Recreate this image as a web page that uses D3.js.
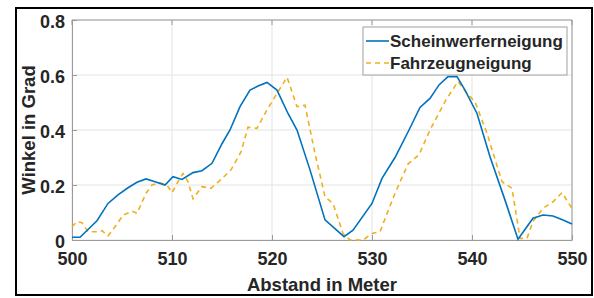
<!DOCTYPE html>
<html>
<head>
<meta charset="utf-8">
<title>Winkel</title>
<style>
  body { margin: 0; background: #fff; }
  text { font-family: "Liberation Sans", Arial, sans-serif; font-weight: bold; fill: #262626; }
  .grid line { stroke: #e3e3e3; stroke-width: 1; }
  .tick text { font-size: 18px; }
</style>
</head>
<body>
<svg width="594" height="298"></svg>
<script src="https://d3js.org/d3.v7.min.js"></script>
<script>
// Scheinwerferneigung (blue, solid)
var abstandSchein = [500, 500.8, 502.5, 503.6, 504.6, 505.6, 506.5, 507.4, 508.3, 509.3,
  510.1, 511.0, 512.1, 513, 514, 515, 515.8, 516.8, 517.8, 518.6, 519.5, 520.5, 521.6,
  522.5, 523.8, 525.3, 527.2, 528.1, 530, 531, 532.3, 533.7, 534.8, 535.8, 536.7, 537.6,
  538.5, 539.3, 540.5, 541.8, 543.3, 544.6, 546.1, 547.1, 548.1, 549.1, 550];
var winkelSchein = [0.01, 0.01, 0.07, 0.133, 0.164, 0.19, 0.21, 0.222, 0.212, 0.2,
  0.23, 0.22, 0.245, 0.252, 0.279, 0.35, 0.4, 0.485, 0.545, 0.56, 0.573, 0.545, 0.46,
  0.4, 0.255, 0.073, 0.012, 0.036, 0.133, 0.224, 0.30, 0.4, 0.482, 0.515, 0.564, 0.594,
  0.594, 0.545, 0.46, 0.303, 0.145, 0.003, 0.079, 0.091, 0.087, 0.073, 0.058];

// Fahrzeugneigung (orange, dashed)
var abstandFahrzeug = [500, 500.5, 501, 501.6, 502.5, 503, 503.6, 504.3, 505.1, 506,
  506.5, 507.4, 508, 508.8, 509.5, 510, 510.6, 511.1, 511.6, 512.1, 513, 513.9, 514.9,
  515.9, 516.9, 517.6, 518.5, 519.5, 520.5, 521.5, 522.5, 523.3, 524.3, 525.3, 526.1,
  527.1, 527.8, 529.1, 530, 530.8, 532.3, 533.6, 534.7, 535.8, 537.4, 538.6, 539.5,
  540.3, 541.5, 543, 544, 544.8, 545.5, 546.1, 547.1, 548.1, 549, 550];
var winkelFahrzeug = [0.048, 0.067, 0.063, 0.03, 0.03, 0.034, 0.015, 0.048, 0.09, 0.105,
  0.097, 0.17, 0.2, 0.208, 0.2, 0.172, 0.212, 0.242, 0.212, 0.15, 0.194, 0.188, 0.22,
  0.255, 0.32, 0.41, 0.406, 0.473, 0.533, 0.592, 0.485, 0.49, 0.315, 0.157, 0.133,
  0.024, 0, 0, 0.024, 0.03, 0.17, 0.276, 0.31, 0.4, 0.51, 0.576, 0.533,
  0.503, 0.388, 0.212, 0.188, 0.006, 0.006, 0.067, 0.115, 0.139, 0.172, 0.115];

var xTicks = [500, 510, 520, 530, 540, 550];
var yTicks = [0, 0.2, 0.4, 0.6, 0.8];
var legendNames = ["Scheinwerferneigung", "Fahrzeugneigung"];

var svg = d3.select("svg");
var pLeft = 72, pRight = 572, pTop = 20, pBottom = 240;

var x = d3.scaleLinear().domain([500, 550]).range([pLeft, pRight]);
var y = d3.scaleLinear().domain([0, 0.8]).range([pBottom, pTop]);

// outer frame
svg.append("rect")
  .attr("x", 16).attr("y", 8).attr("width", 576).attr("height", 287)
  .attr("fill", "#fff").attr("stroke", "#000").attr("stroke-width", 2);

// grid
var grid = svg.append("g").attr("class", "grid");
grid.selectAll(".gx").data(xTicks).enter().append("line")
  .attr("x1", d => x(d)).attr("x2", d => x(d)).attr("y1", pTop).attr("y2", pBottom);
grid.selectAll(".gy").data(yTicks).enter().append("line")
  .attr("x1", pLeft).attr("x2", pRight).attr("y1", d => y(d)).attr("y2", d => y(d));

// axes
var xAxis = d3.axisBottom(x).tickValues(xTicks).tickSizeInner(-5).tickSizeOuter(0).tickPadding(12);
var yAxis = d3.axisLeft(y).tickValues(yTicks).tickSizeInner(-5).tickSizeOuter(0).tickPadding(7)
  .tickFormat(d => d === 0 ? "0" : d3.format(".1f")(d));

var gx = svg.append("g").attr("transform", "translate(0," + pBottom + ")").call(xAxis);
var gy = svg.append("g").attr("transform", "translate(" + pLeft + ",0)").call(yAxis);
[gx, gy].forEach(function(g) {
  g.select(".domain").attr("stroke", "#9a9a9a");
  g.selectAll(".tick line").attr("stroke", "#9a9a9a");
  g.selectAll(".tick text").attr("fill", "#262626").attr("font-family", null);
});
gx.selectAll(".tick text").attr("dy", "0.71em");
gy.selectAll(".tick text").attr("dy", "0.4em");

// top and right border of the plot box
svg.append("path")
  .attr("d", "M" + pLeft + "," + pTop + "H" + pRight + "V" + pBottom)
  .attr("fill", "none").attr("stroke", "#9a9a9a");
svg.selectAll(".ttick").data(xTicks).enter().append("line")
  .attr("x1", d => x(d)).attr("x2", d => x(d)).attr("y1", pTop).attr("y2", pTop + 5)
  .attr("stroke", "#9a9a9a");

// lines
var line = d3.line().x(d => x(d[0])).y(d => y(d[1]));
var datenSchein = d3.zip(abstandSchein, winkelSchein);
var datenFahrzeug = d3.zip(abstandFahrzeug, winkelFahrzeug);

svg.append("path").datum(datenFahrzeug)
  .attr("d", line).attr("fill", "none")
  .attr("stroke", "#EDB120").attr("stroke-width", 1.6).attr("stroke-dasharray", "5,4");
svg.append("path").datum(datenSchein)
  .attr("d", line).attr("fill", "none")
  .attr("stroke", "#0072BD").attr("stroke-width", 1.6);

// axis labels
svg.append("text")
  .attr("x", (pLeft + pRight) / 2).attr("y", 291)
  .attr("text-anchor", "middle").attr("font-size", "18.5px")
  .text("Abstand in Meter");
svg.append("text")
  .attr("transform", "translate(35," + (pTop + pBottom) / 2 + ") rotate(-90)")
  .attr("text-anchor", "middle").attr("font-size", "18.5px")
  .text("Winkel in Grad");

// legend
var lg = svg.append("g").attr("transform", "translate(363,27)");
lg.append("rect").attr("width", 204).attr("height", 48)
  .attr("fill", "#fff").attr("stroke", "#a0a0a0");
var farben = ["#0072BD", "#EDB120"];
var striche = [null, "5,4"];
legendNames.forEach(function(name, i) {
  var yy = 14 + i * 22;
  lg.append("line").attr("x1", 3).attr("x2", 26).attr("y1", yy).attr("y2", yy)
    .attr("stroke", farben[i]).attr("stroke-width", 1.6).attr("stroke-dasharray", striche[i]);
  lg.append("text").attr("x", 27).attr("y", yy).attr("dy", "0.35em")
    .attr("font-size", "17px").text(name);
});
</script>
</body>
</html>
